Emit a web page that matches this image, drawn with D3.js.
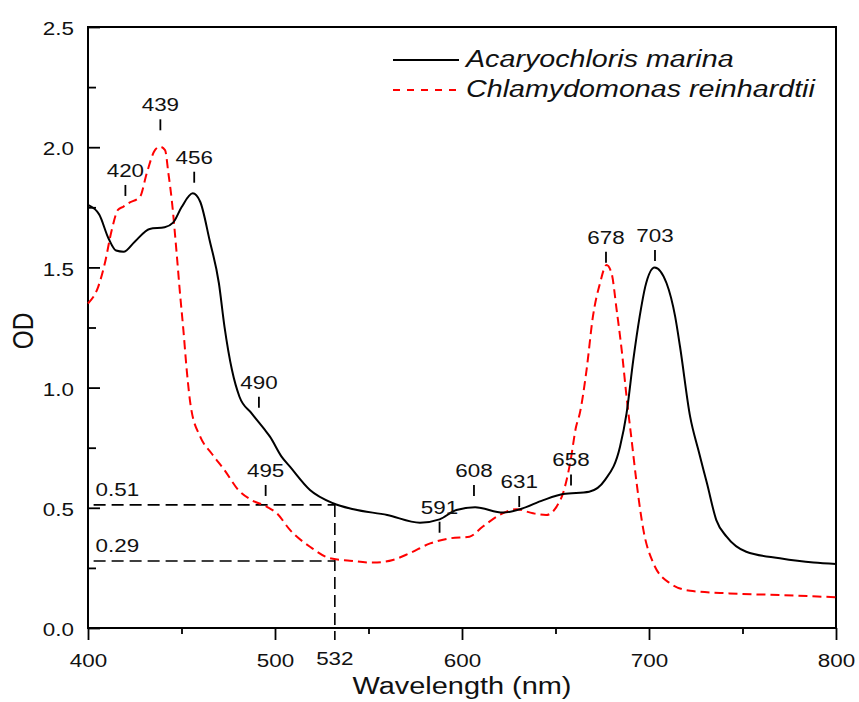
<!DOCTYPE html>
<html>
<head>
<meta charset="utf-8">
<script src="https://cdn.jsdelivr.net/npm/d3@7"></script>
<style>
  body { margin:0; background:#fff; }
  text { font-family:"Liberation Sans", Arial, sans-serif; fill:#111; }
</style>
</head>
<body>
<script>
// Acaryochloris marina (solid black)
var acaryoNm = [400,406,411,415,419,425,433,441,445.5,450,456,460,465,470,473,477,481,487.5,494.6,497.3,503.5,508,518.7,531,542,560,577.5,588,597,607,622,631,643.5,654,668,676.5,684.5,688,691.6,695,698,703,709.4,714,716.6,722,726.4,731,736,741.5,752,770,788,800];
var acaryoOD = [1.76,1.72,1.62,1.57,1.565,1.607,1.66,1.667,1.686,1.75,1.808,1.773,1.614,1.434,1.253,1.073,0.962,0.893,0.824,0.796,0.713,0.671,0.574,0.519,0.494,0.47,0.438,0.452,0.491,0.502,0.48,0.494,0.532,0.557,0.567,0.616,0.754,0.893,1.115,1.295,1.42,1.50,1.434,1.295,1.17,0.879,0.74,0.602,0.449,0.38,0.317,0.29,0.272,0.266];
// Chlamydomonas reinhardtii (red dashed)
var chlamyNm = [400,405.5,409,412.7,416,419,421.6,427.8,431.4,435.8,438.5,441.2,443,444.8,447.4,449.2,451,452.8,455,460,466,473,480.4,487.5,495.5,501,508,518.7,529.4,540,552.6,563,572,583,593.6,604,611,620,629,638,645,650.6,654,657.8,661,663,666.6,670,673.8,677.3,680,682.7,685.4,688,690.7,693.4,697,702.3,711.2,722,743,770,800];
var chlamyOD = [1.35,1.42,1.517,1.656,1.739,1.753,1.767,1.794,1.891,1.988,2.002,1.988,1.891,1.78,1.559,1.392,1.24,1.073,0.92,0.796,0.727,0.657,0.574,0.532,0.505,0.477,0.408,0.338,0.29,0.28,0.272,0.283,0.311,0.352,0.373,0.38,0.421,0.47,0.494,0.477,0.47,0.505,0.56,0.685,0.837,0.893,1.073,1.295,1.434,1.51,1.475,1.323,1.156,0.962,0.782,0.602,0.408,0.27,0.186,0.155,0.144,0.137,0.128];

var seriesNames = ['Acaryochloris marina','Chlamydomonas reinhardtii'];
var xTicks = [400,500,600,700,800];
var xMinor = [450,550,650,750];
var yTicks = [0,0.5,1.0,1.5,2.0,2.5];
var yMinor = [0.25,0.75,1.25,1.75,2.25];

// peak marks: label, wavelength of the little tick, OD at top of tick
var peakLabels = ['420','439','456','490','495','591','608','631','658','678','703'];
var peakNm = [420,438.7,456.8,491.4,495,588,606.4,630.6,658.3,677,703.2];
var peakOD = [1.843,2.116,1.898,0.962,0.595,0.442,0.595,0.549,0.639,1.565,1.572];

// dashed reference lines at 532 nm
var refNm = 532;
var refLabels = ['0.51','0.29'];
var refOD = [0.512,0.279];

var W = 859, H = 702;
var SX = 1.18; // text in the original is stretched sideways
var fs = 19;

var x = d3.scaleLinear().domain([400,800]).range([88,836]);
var y = d3.scaleLinear().domain([0,2.5]).range([628,27]);

var svg = d3.select('body').append('svg').attr('width',W).attr('height',H);

// axes
var xAxis = svg.append('g').attr('transform','translate(0,628)')
  .call(d3.axisBottom(x).tickValues(xTicks).tickSize(12).tickPadding(14).tickFormat(d3.format('d')));
var xAxisMinor = svg.append('g').attr('transform','translate(0,628)')
  .call(d3.axisBottom(x).tickValues(xMinor).tickSize(6).tickFormat(''));
var yAxis = svg.append('g').attr('transform','translate(88,0)')
  .call(d3.axisLeft(y).tickValues(yTicks).tickSizeInner(-12).tickSizeOuter(0).tickPadding(14).tickFormat(d3.format('.1f')));
var yAxisMinor = svg.append('g').attr('transform','translate(88,0)')
  .call(d3.axisLeft(y).tickValues(yMinor).tickSizeInner(-8).tickSizeOuter(0).tickFormat(''));

svg.selectAll('.domain').remove();
svg.selectAll('.tick line').attr('stroke','#000').attr('stroke-width',1.8);
xAxis.selectAll('text').attr('font-size',fs).attr('fill','#111').attr('transform','scale('+SX+',1)');
yAxis.selectAll('text').attr('font-size',fs).attr('fill','#111')
  .attr('x',-14/SX).attr('dy','0.4em').attr('transform','scale('+SX+',1)');

// frame
svg.append('rect').attr('x',x(400)).attr('y',y(2.5))
  .attr('width',x(800)-x(400)).attr('height',y(0)-y(2.5))
  .attr('fill','none').attr('stroke','#000').attr('stroke-width',2);

// axis titles
svg.append('text').attr('transform','translate('+((x(400)+x(800))/2)+',694) scale('+SX+',1)')
  .attr('text-anchor','middle').attr('font-size',24.5).text('Wavelength (nm)');
svg.append('text').attr('transform','translate(33,331) scale('+SX+',1) rotate(-90)')
  .attr('text-anchor','middle').attr('font-size',24.5).text('OD');

// reference dashed lines
refOD.forEach(function(v,i){
  svg.append('line').attr('x1',x(403)).attr('x2',x(refNm)).attr('y1',y(v)).attr('y2',y(v))
    .attr('stroke','#000').attr('stroke-width',1.6).attr('stroke-dasharray','12,6');
  svg.append('text').attr('transform','translate('+(x(403)+2)+','+(y(v)-9)+') scale('+SX+',1)')
    .attr('font-size',fs).text(refLabels[i]);
});
svg.append('line').attr('x1',x(refNm)).attr('x2',x(refNm)).attr('y1',y(refOD[0])).attr('y2',y(0)+12)
  .attr('stroke','#000').attr('stroke-width',1.6).attr('stroke-dasharray','12,6');
svg.append('text').attr('transform','translate('+x(refNm)+',665) scale('+SX+',1)')
  .attr('text-anchor','middle').attr('font-size',fs).text(refNm);

// curves
var line = d3.line().x(function(d){return x(d[0]);}).y(function(d){return y(d[1]);}).curve(d3.curveMonotoneX);
svg.append('path').datum(d3.zip(chlamyNm,chlamyOD)).attr('d',line)
  .attr('fill','none').attr('stroke','#ff0000').attr('stroke-width',2).attr('stroke-dasharray','9,5');
svg.append('path').datum(d3.zip(acaryoNm,acaryoOD)).attr('d',line)
  .attr('fill','none').attr('stroke','#000').attr('stroke-width',2);

// peak marks
var peaks = svg.append('g').selectAll('g').data(peakLabels).enter().append('g');
peaks.append('line')
  .attr('x1',function(d,i){return x(peakNm[i]);}).attr('x2',function(d,i){return x(peakNm[i]);})
  .attr('y1',function(d,i){return y(peakOD[i]);}).attr('y2',function(d,i){return y(peakOD[i])+11;})
  .attr('stroke','#000').attr('stroke-width',1.8);
peaks.append('text')
  .attr('transform',function(d,i){return 'translate('+x(peakNm[i])+','+(y(peakOD[i])-8)+') scale('+SX+',1)';})
  .attr('text-anchor','middle').attr('font-size',fs).text(function(d){return d;});

// legend
var leg = svg.append('g');
leg.append('line').attr('x1',393).attr('x2',459).attr('y1',60).attr('y2',60)
  .attr('stroke','#000').attr('stroke-width',2);
leg.append('line').attr('x1',393).attr('x2',459).attr('y1',90).attr('y2',90)
  .attr('stroke','#ff0000').attr('stroke-width',2).attr('stroke-dasharray','7,7');
leg.selectAll('text').data(seriesNames).enter().append('text')
  .attr('transform',function(d,i){return 'translate(466,'+(67+i*30)+') scale('+SX+',1)';})
  .attr('font-size',24.3).attr('font-style','italic').text(function(d){return d;});
</script>
</body>
</html>
